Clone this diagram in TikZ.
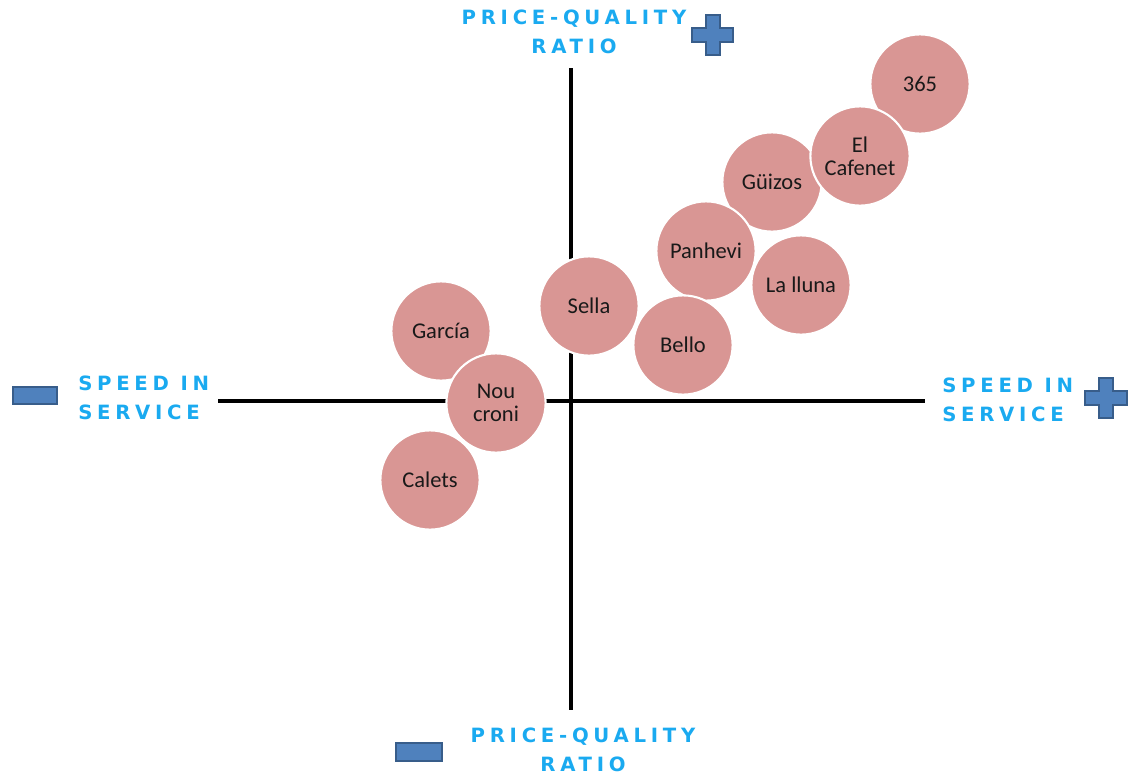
\documentclass[tikz,border=0pt]{standalone}
\usepackage{fontspec}
\setmainfont{Carlito}
\newfontfamily\axisfont[LetterSpace=24]{DejaVu Sans}
\usetikzlibrary{positioning,calc}
\definecolor{bubble}{HTML}{D99694}
\definecolor{signfill}{HTML}{4F81BD}
\definecolor{signline}{HTML}{385D8A}
\definecolor{axislabel}{HTML}{1AAAF0}
\tikzset{
  bub/.style={circle, fill=bubble, draw=white, line width=1.5pt, minimum size=2.48cm, inner sep=0pt, align=center, font=\fontsize{16}{16.5}\selectfont, text=black!90},
  axlabel/.style={font=\axisfont\bfseries\fontsize{14}{21}\selectfont, text=axislabel, inner sep=0pt},
  sign/.style={fill=signfill, draw=signline, line width=1pt},
  axis/.style={line width=2.2pt}
}
\begin{document}
\begin{tikzpicture}[x=0.025cm, y=-0.025cm]
    \useasboundingbox (0,0) rectangle (1136,778);

    %coordinates
    \coordinate (top)    at (571,68);
    \coordinate (bottom) at (571,710);
    \coordinate (left)   at (218,401);
    \coordinate (right)  at (925,401);

    %edges
    \draw[axis] (left) -- (right);
    \draw[axis] (top) -- (bottom);

    %nodes
    \node[bub] (365)     at (920,84)  {365};
    \node[bub] (Guizos)  at (772,182) {Güizos};
    \node[bub] (Cafenet) at (860,156) {El\\Cafenet};
    \node[bub] (Panhevi) at (706,251) {Panhevi};
    \node[bub] (Lluna)   at (801,285) {La lluna};
    \node[bub] (Bello)   at (683,345) {Bello};
    \node[bub] (Sella)   at (589,306) {Sella};
    \node[bub] (Garcia)  at (441,331) {García};
    \node[bub] (Nou)     at (496,403) {Nou\\croni};
    \node[bub] (Calets)  at (430,480) {Calets};

    %labels
    \node[axlabel, align=center] (PQtop) at (574,32) {PRICE-QUALITY\\RATIO};
    \node[axlabel, align=center] (PQbot) at (583,750) {PRICE-QUALITY\\RATIO};
    \node[axlabel, align=left, anchor=west] (SPleft)  at (78,398)  {SPEED IN\\SERVICE};
    \node[axlabel, align=left, anchor=west] (SPright) at (942,400) {SPEED IN\\SERVICE};

    %signs
    \draw[sign] (706,15) -- (720,15) -- (720,28) -- (733,28) -- (733,42) -- (720,42) -- (720,55)
                -- (706,55) -- (706,42) -- (692,42) -- (692,28) -- (706,28) -- cycle;
    \draw[sign] (1099,378) -- (1113,378) -- (1113,391) -- (1127,391) -- (1127,405) -- (1113,405) -- (1113,418)
                -- (1099,418) -- (1099,405) -- (1085,405) -- (1085,391) -- (1099,391) -- cycle;
    \draw[sign] (13,387) rectangle (57,404);
    \draw[sign] (396,743) rectangle (442,761);
\end{tikzpicture}
\end{document}
